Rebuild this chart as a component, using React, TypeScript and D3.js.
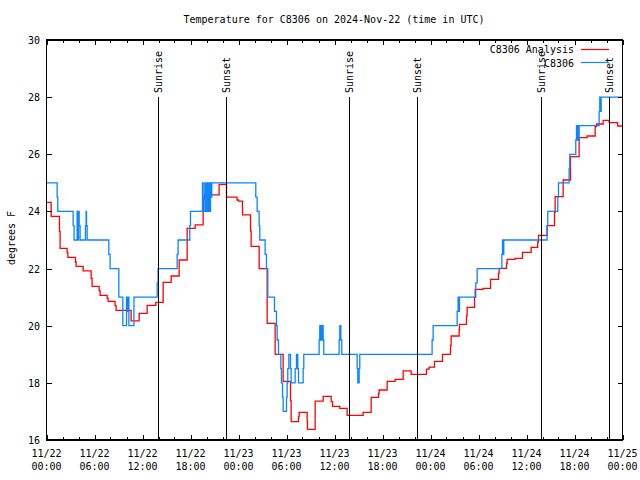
import React from "react";
import * as d3 from "d3";

const title = "Temperature for C8306 on 2024-Nov-22 (time in UTC)";
const yLabel = "degrees F";
const seriesNames = ["C8306 Analysis", "C8306"];

// hours since 11/22 00:00 UTC
const analysisHours = [0, 0.58, 1.62, 1.7, 2.58, 2.67, 3.62, 3.7, 4.58, 5.58, 5.7, 6.58, 6.7, 7.58, 7.7, 8.58, 8.7, 10.58, 11.58, 12.58, 13.66, 14.58, 15.58, 16.58, 17.58, 18.58, 19.58, 19.75, 21.58, 22.5, 23.82, 24.0, 24.5, 25.5, 25.58, 26.58, 27.58, 28.58, 29.58, 30.5, 30.58, 31.5, 31.58, 32.58, 32.62, 33.58, 34.58, 35.58, 35.75, 36.66, 37.58, 39.58, 40.58, 41.5, 41.58, 42.58, 43.58, 44.58, 45.58, 47.5, 47.83, 48.5, 49.5, 50.5, 50.58, 51.58, 51.62, 52.5, 52.58, 53.5, 53.58, 54.58, 55.5, 56.5, 56.58, 57.5, 57.58, 58.58, 59.5, 60.58, 61.4, 61.5, 62.58, 63.5, 63.58, 64.58, 65.5, 66.58, 67.58, 68.58, 68.75, 69.58, 70.33, 71.4, 72];
const analysisTemps = [24.32, 23.83, 23.3, 22.71, 22.56, 22.39, 22.23, 22.08, 21.92, 21.66, 21.38, 21.23, 21.06, 20.96, 20.85, 20.7, 20.54, 20.17, 20.43, 20.71, 20.82, 21.52, 21.74, 22.3, 23.41, 23.53, 24.45, 24.58, 24.95, 24.5, 24.4, 24.36, 23.88, 23.32, 22.78, 22.0, 20.08, 19.0, 18.05, 17.38, 16.64, 16.82, 16.97, 16.68, 16.37, 17.36, 17.53, 17.34, 17.18, 17.11, 16.86, 16.97, 17.49, 17.63, 17.75, 18.05, 18.12, 18.42, 18.3, 18.48, 18.55, 18.75, 19.0, 19.31, 19.64, 19.85, 20.05, 20.35, 20.64, 20.99, 21.27, 21.31, 21.62, 21.83, 22.01, 22.18, 22.32, 22.36, 22.57, 22.74, 22.93, 23.16, 23.5, 23.97, 24.52, 25.1, 25.92, 26.58, 26.64, 26.97, 27.06, 27.19, 27.11, 26.99, 26.99];

const obsHours = [0, 1.33, 1.41, 3.33, 3.45, 3.83, 3.91, 4.0, 4.08, 4.2, 4.87, 4.95, 5.0, 5.08, 7.79, 7.95, 9.04, 9.54, 10.0, 10.12, 10.2, 10.3, 10.93, 13.83, 13.95, 16.33, 16.45, 17.91, 18.0, 19.5, 19.58, 19.79, 19.87, 20.04, 20.12, 20.2, 20.29, 20.37, 20.5, 20.58, 20.66, 26.16, 26.33, 26.58, 26.66, 27.33, 27.5, 27.66, 28.5, 28.75, 28.83, 29.0, 29.29, 29.37, 29.5, 29.58, 30.0, 30.08, 30.16, 30.29, 30.5, 30.58, 31.08, 31.25, 31.41, 31.5, 32.08, 32.16, 34.08, 34.16, 34.25, 34.33, 34.41, 34.5, 34.58, 34.66, 36.58, 36.66, 36.79, 36.91, 38.83, 38.91, 39.08, 39.16, 48.2, 48.33, 51.33, 51.45, 51.54, 51.62, 53.66, 53.83, 56.92, 57.0, 57.08, 57.16, 62.58, 62.66, 63.91, 64.0, 65.33, 65.41, 66.16, 66.25, 66.33, 66.41, 66.5, 66.58, 69.08, 69.16, 69.25, 69.33, 72];
const obsTemps = [25, 24.5, 24, 23.5, 23, 24, 23, 24, 23.5, 23, 23.5, 24, 23.5, 23, 22.5, 22, 21, 20, 21, 20.5, 21, 20, 21, 21.5, 22, 22.5, 23, 23.5, 24, 25, 24, 25, 24, 25, 24.5, 24, 25, 24, 25, 24.5, 25, 24.5, 24, 23.5, 23, 22.5, 22, 21, 20.5, 20, 19.5, 19, 18.5, 18, 17.5, 17, 17.5, 18, 18.5, 19, 18.5, 18, 18.5, 19, 18.5, 18, 18.5, 19, 19.5, 20, 19.5, 20, 19.5, 20, 19.5, 19, 19.5, 20, 19.5, 19, 18.5, 18, 18.5, 19, 19.5, 20, 20.5, 21, 20.5, 21, 21.5, 22, 22.5, 23, 22.5, 23, 23.5, 24, 24.5, 25, 25.5, 26, 26.5, 27, 26.5, 27, 26.5, 27, 27.5, 28, 27.5, 28, 28];

const sunLabels = ["Sunrise", "Sunset", "Sunrise", "Sunset", "Sunrise", "Sunset"];
const sunHours = [13.93, 22.47, 37.87, 46.35, 61.85, 70.33];

const xTickHours = [0, 6, 12, 18, 24, 30, 36, 42, 48, 54, 60, 66, 72];
const xTickDates = ["11/22", "11/22", "11/22", "11/22", "11/23", "11/23", "11/23", "11/23", "11/24", "11/24", "11/24", "11/24", "11/25"];
const xTickTimes = ["00:00", "06:00", "12:00", "18:00", "00:00", "06:00", "12:00", "18:00", "00:00", "06:00", "12:00", "18:00", "00:00"];
const yTicks = [16, 18, 20, 22, 24, 26, 28, 30];

const RED = "#ff0000";
const BLUE = "#0a84ff";
const FONT = "'DejaVu Sans Mono', 'Liberation Mono', monospace";

export default function App() {
  const W = 640, H = 480;
  const left = 46.5, right = 622.5, top = 40, bottom = 440;
  const x = d3.scaleLinear().domain([0, 72]).range([left, right]);
  const y = d3.scaleLinear().domain([16, 30]).range([bottom, top]);

  const line = d3.line<[number, number]>()
    .x((d) => x(d[0]))
    .y((d) => y(d[1]))
    .curve(d3.curveStepAfter);

  const redPts: [number, number][] = analysisHours.map((h, i) => [h, analysisTemps[i]]);
  const bluePts: [number, number][] = obsHours.map((h, i) => [h, obsTemps[i]]);

  const minorX = d3.range(0, 73, 2);

  return (
    <svg width={W} height={H} style={{ position: "absolute", left: 0, top: 0, background: "#fff" }}>
      <rect x={0} y={0} width={W} height={H} fill="#fff" />
      <text x={334} y={23} textAnchor="middle" fontFamily={FONT} fontSize={10} fill="#000">{title}</text>

      {/* series */}
      <path d={line(redPts) || ""} fill="none" stroke={RED} strokeWidth={1.3} />
      <path d={line(bluePts) || ""} fill="none" stroke={BLUE} strokeWidth={1.3} />

      {/* sun lines */}
      {sunHours.map((h, i) => (
        <g key={"sun" + i}>
          <line x1={Math.round(x(h)) + 0.5} x2={Math.round(x(h)) + 0.5} y1={97} y2={bottom} stroke="#000" strokeWidth={1} shapeRendering="crispEdges" />
          <text transform={`translate(${Math.round(x(h)) + 4},93) rotate(-90)`} fontFamily={FONT} fontSize={10} fill="#000">{sunLabels[i]}</text>
        </g>
      ))}

      {/* frame */}
      <rect x={left} y={top} width={right - left} height={bottom - top} fill="none" stroke="#000" strokeWidth={1.2} shapeRendering="crispEdges" />

      {/* x ticks */}
      {minorX.map((h) => {
        const len = h % 6 === 0 ? 5 : 3;
        const xx = Math.round(x(h)) + 0.5;
        return (
          <g key={"xt" + h}>
            <line x1={xx} x2={xx} y1={bottom} y2={bottom - len} stroke="#000" shapeRendering="crispEdges" />
            <line x1={xx} x2={xx} y1={top} y2={top + len} stroke="#000" shapeRendering="crispEdges" />
          </g>
        );
      })}
      {xTickHours.map((h, i) => (
        <g key={"xl" + h}>
          <text x={x(h)} y={457} textAnchor="middle" fontFamily={FONT} fontSize={10} fill="#000">{xTickDates[i]}</text>
          <text x={x(h)} y={470} textAnchor="middle" fontFamily={FONT} fontSize={10} fill="#000">{xTickTimes[i]}</text>
        </g>
      ))}

      {/* y ticks */}
      {yTicks.map((v) => (
        <g key={"yt" + v}>
          <line x1={left} x2={left + 5} y1={Math.round(y(v)) + 0.5} y2={Math.round(y(v)) + 0.5} stroke="#000" shapeRendering="crispEdges" />
          <line x1={right} x2={right - 5} y1={Math.round(y(v)) + 0.5} y2={Math.round(y(v)) + 0.5} stroke="#000" shapeRendering="crispEdges" />
          <text x={40} y={y(v) + 4} textAnchor="end" fontFamily={FONT} fontSize={10} fill="#000">{v}</text>
        </g>
      ))}
      <text transform={`translate(15,238) rotate(-90)`} textAnchor="middle" fontFamily={FONT} fontSize={10} fill="#000">{yLabel}</text>

      {/* legend */}
      <text x={574} y={53} textAnchor="end" fontFamily={FONT} fontSize={10} fill="#000">{seriesNames[0]}</text>
      <line x1={581} x2={609} y1={49.5} y2={49.5} stroke={RED} strokeWidth={1.2} />
      <text x={574} y={67} textAnchor="end" fontFamily={FONT} fontSize={10} fill="#000">{seriesNames[1]}</text>
      <line x1={581} x2={609} y1={62.5} y2={62.5} stroke={BLUE} strokeWidth={1.2} />
    </svg>
  );
}
